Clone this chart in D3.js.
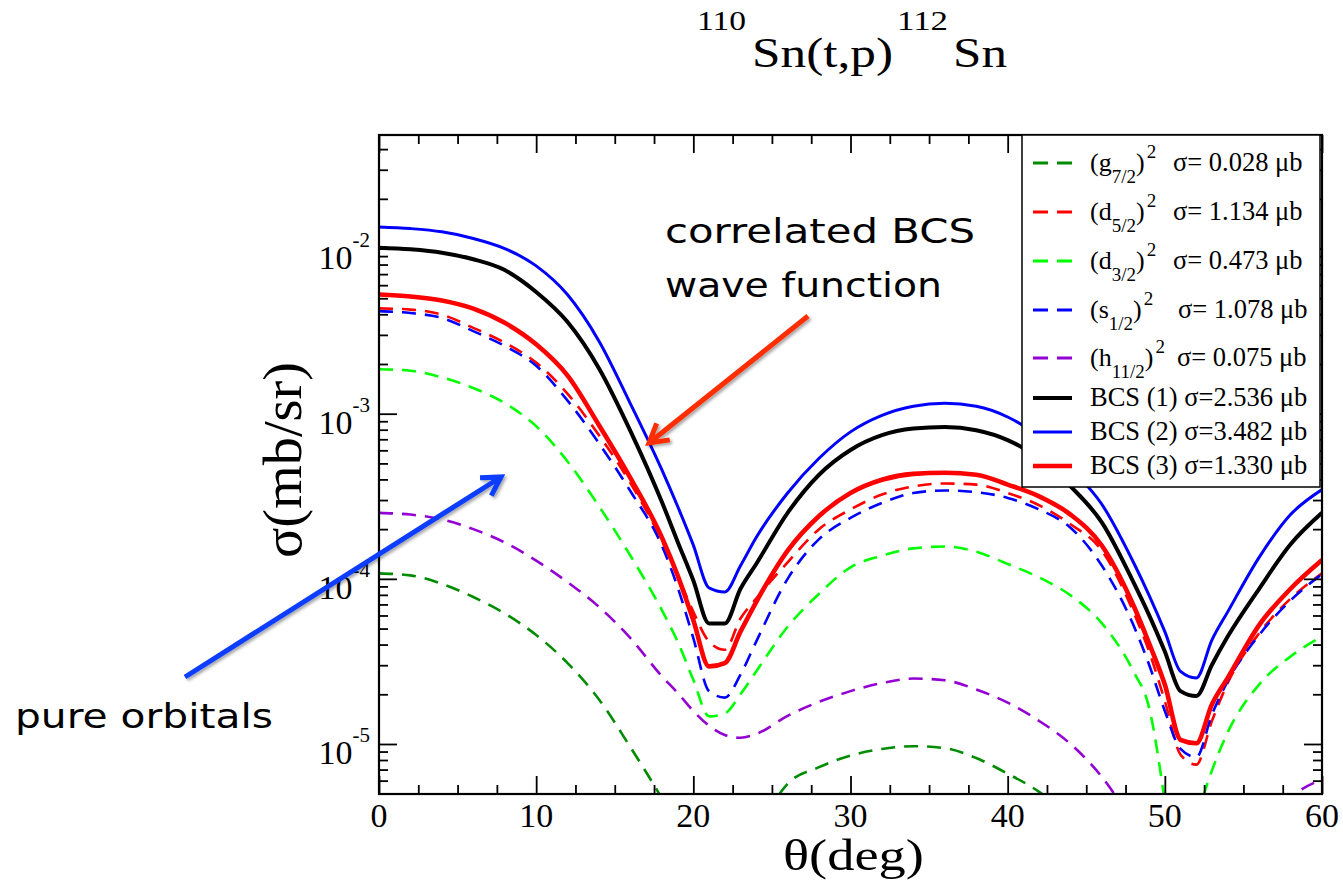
<!DOCTYPE html>
<html>
<head>
<meta charset="utf-8">
<script src="https://cdn.jsdelivr.net/npm/d3@7"></script>
<style>
  body { margin: 0; background: #fff; }
  svg text { font-family: "Liberation Serif", "Times New Roman", serif; fill: #000; }
  .note { font-family: "DejaVu Sans", sans-serif; }
</style>
</head>
<body>
<div id="chart"></div>
<script>
// scattering angle theta (deg)
const angles = [0, 2, 4, 6, 8, 10, 12, 14, 16, 18, 19, 20, 21, 22, 23, 24, 26, 28, 30, 32, 34, 36, 38, 40, 42, 44, 46, 48, 49, 50, 51, 52, 53, 54, 56, 58, 60];

// cross sections (mb/sr); null = below the frame
const g72 = [1.08e-4, 1.05e-4, 9.33e-5, 7.76e-5, 6.17e-5, 4.57e-5, 3.09e-5, 1.86e-5, 9.55e-6, 4.68e-6, 3.16e-6, null, null, null, null, 2.82e-6, 5.75e-6, 7.24e-6, 8.51e-6, 9.33e-6, 9.70e-6, 9.44e-6, 8.22e-6, 6.61e-6, 5.13e-6, 3.55e-6, null, null, null, null, null, null, null, null, null, null, null];
const d52 = [4.34e-3, 4.27e-3, 3.98e-3, 3.31e-3, 2.69e-3, 2.04e-3, 1.32e-3, 7.41e-4, 3.80e-4, 1.70e-4, 1.05e-4, 6.31e-5, 4.17e-5, 3.72e-5, 5.75e-5, 7.59e-5, 1.26e-4, 2.0e-4, 2.63e-4, 3.24e-4, 3.63e-4, 3.78e-4, 3.72e-4, 3.31e-4, 2.79e-4, 2.14e-4, 1.48e-4, 6.31e-5, 3.63e-5, 1.82e-5, 8.61e-6, 7.50e-6, 1.38e-5, 2.34e-5, 4.68e-5, 7.59e-5, 1.08e-4];
const d32 = [1.86e-3, 1.82e-3, 1.66e-3, 1.43e-3, 1.16e-3, 8.41e-4, 5.13e-4, 2.75e-4, 1.38e-4, 6.46e-5, 4.17e-5, 2.45e-5, 1.47e-5, 1.53e-5, 2.0e-5, 2.75e-5, 5.13e-5, 8.13e-5, 1.175e-4, 1.38e-4, 1.53e-4, 1.57e-4, 1.46e-4, 1.23e-4, 1.02e-4, 7.94e-5, 5.37e-5, 2.75e-5, 1.66e-5, 4.47e-6, null, 3.55e-6, 6.92e-6, 1.175e-5, 2.29e-5, 3.39e-5, 4.47e-5];
const s12 = [4.18e-3, 4.07e-3, 3.80e-3, 3.16e-3, 2.57e-3, 1.95e-3, 1.20e-3, 6.61e-4, 3.39e-4, 1.585e-4, 8.91e-5, 4.37e-5, 2.09e-5, 1.91e-5, 2.63e-5, 4.17e-5, 1.0e-4, 1.74e-4, 2.34e-4, 2.88e-4, 3.31e-4, 3.43e-4, 3.35e-4, 3.09e-4, 2.63e-4, 2.04e-4, 1.20e-4, 5.25e-5, 3.02e-5, 1.585e-5, 9.33e-6, 8.32e-6, 1.51e-5, 2.40e-5, 4.57e-5, 7.41e-5, 1.07e-4];
const h112 = [2.51e-4, 2.45e-4, 2.29e-4, 2.0e-4, 1.66e-4, 1.29e-4, 9.55e-5, 6.76e-5, 4.37e-5, 2.57e-5, 2.04e-5, 1.585e-5, 1.29e-5, 1.135e-5, 1.09e-5, 1.15e-5, 1.48e-5, 1.80e-5, 2.09e-5, 2.34e-5, 2.49e-5, 2.43e-5, 2.14e-5, 1.78e-5, 1.38e-5, 1.0e-5, 6.31e-6, 3.31e-6, null, null, null, null, null, null, 2.51e-6, 4.68e-6, 6.08e-6];
const bcs1 = [1.012e-2, 9.89e-3, 9.44e-3, 8.61e-3, 7.41e-3, 5.46e-3, 3.59e-3, 1.88e-3, 7.85e-4, 2.92e-4, 1.68e-4, 9.77e-5, 5.37e-5, 5.37e-5, 8.71e-5, 1.23e-4, 2.51e-4, 4.27e-4, 6.03e-4, 7.41e-4, 8.13e-4, 8.32e-4, 7.94e-4, 6.92e-4, 5.37e-4, 3.63e-4, 2.19e-4, 9.55e-5, 6.03e-5, 3.63e-5, 2.09e-5, 1.95e-5, 3.02e-5, 4.47e-5, 8.71e-5, 1.62e-4, 2.51e-4];
const bcs2 = [1.352e-2, 1.321e-2, 1.262e-2, 1.151e-2, 1.0e-2, 7.85e-3, 5.25e-3, 2.75e-3, 1.148e-3, 4.57e-4, 2.75e-4, 1.60e-4, 8.81e-5, 8.32e-5, 1.20e-4, 1.78e-4, 3.31e-4, 5.37e-4, 7.76e-4, 9.77e-4, 1.11e-3, 1.156e-3, 1.11e-3, 9.55e-4, 7.24e-4, 4.68e-4, 2.82e-4, 1.26e-4, 7.94e-5, 4.79e-5, 2.75e-5, 2.51e-5, 4.27e-5, 6.31e-5, 1.35e-4, 2.45e-4, 3.47e-4];
const bcs3 = [5.27e-3, 5.13e-3, 4.85e-3, 4.33e-3, 3.55e-3, 2.63e-3, 1.70e-3, 8.51e-4, 4.07e-4, 1.78e-4, 1.05e-4, 5.62e-5, 2.95e-5, 3.09e-5, 4.79e-5, 7.24e-5, 1.48e-4, 2.40e-4, 3.31e-4, 3.98e-4, 4.32e-4, 4.39e-4, 4.27e-4, 3.72e-4, 3.16e-4, 2.45e-4, 1.585e-4, 6.92e-5, 4.07e-5, 2.29e-5, 1.06e-5, 1.01e-5, 1.74e-5, 2.51e-5, 5.25e-5, 8.71e-5, 1.30e-4];

// legend texts
const orbitalLetters = ["g", "d", "d", "s", "h"];
const orbitalJ = ["7/2", "5/2", "3/2", "1/2", "11/2"];
const orbitalSigma = ["0.028", "1.134", "0.473", "1.078", "0.075"];
const bcsNames = ["BCS (1)", "BCS (2)", "BCS (3)"];
const bcsSigma = ["2.536", "3.482", "1.330"];

// axis ticks
const xMajor = [0, 10, 20, 30, 40, 50, 60];
const xMinor = [2.5, 5, 7.5, 12.5, 15, 17.5, 22.5, 25, 27.5, 32.5, 35, 37.5, 42.5, 45, 47.5, 52.5, 55, 57.5];
const yExponents = [-5, -4, -3, -2];

const
    width = 1343,
    height = 887,
    plot = { left: 379, right: 1322, top: 135, bottom: 794 },
    svg = d3.select("#chart").append("svg").attr("width", width).attr("height", height);

const xScale = d3.scaleLinear().domain([0, 60]).range([plot.left, plot.right]);
const y = d3.scaleLog().domain([4.98e-6, 4.87e-2]).range([plot.bottom, plot.top]);

const defs = svg.append("defs");
defs.append("clipPath").attr("id", "plot-clip")
    .append("rect")
    .attr("x", plot.left).attr("y", plot.top)
    .attr("width", plot.right - plot.left).attr("height", plot.bottom - plot.top);
defs.append("filter").attr("id", "shadow")
    .attr("x", "-20%").attr("y", "-20%").attr("width", "140%").attr("height", "140%")
    .append("feDropShadow")
    .attr("dx", 2).attr("dy", 2).attr("stdDeviation", 1.5)
    .attr("flood-color", "#000").attr("flood-opacity", 0.35);

const dash = "14 9";
const series = [
    { values: g72, color: "#008c00", dash: dash, w: 2.6 },
    { values: d52, color: "#ff0000", dash: dash, w: 2.6 },
    { values: d32, color: "#00ff00", dash: dash, w: 2.6 },
    { values: s12, color: "#0000ff", dash: dash, w: 2.6 },
    { values: h112, color: "#9400d3", dash: dash, w: 2.6 },
    { values: bcs1, color: "#000000", dash: null, w: 4 },
    { values: bcs2, color: "#0000ff", dash: null, w: 3 },
    { values: bcs3, color: "#ff0000", dash: null, w: 4.6 }
];

var line = d3.line()
    .defined(d => d.v != null)
    .x(d => xScale(d.a))
    .y(d => y(d.v))
    .curve(d3.curveMonotoneX);

const curves = svg.append("g").attr("clip-path", "url(#plot-clip)");
series.forEach(s => {
    curves.append("path")
        .datum(angles.map((a, i) => ({ a: a, v: s.values[i] })))
        .attr("fill", "none")
        .attr("stroke", s.color)
        .attr("stroke-width", s.w)
        .attr("stroke-dasharray", s.dash)
        .attr("stroke-linejoin", "round")
        .attr("d", line);
});

// ticks on all four sides, pointing inward
function tickGroup(axis, transform) {
    svg.append("g")
        .attr("transform", transform)
        .call(axis)
        .call(g => g.select(".domain").remove())
        .call(g => g.selectAll(".tick line").attr("stroke", "#000").attr("stroke-width", 1.8));
}
const yMinor = [];
[-6, -5, -4, -3, -2].forEach(e => {
    for (let k = 2; k <= 9; k++) {
        const v = k * Math.pow(10, e);
        if (v > y.domain()[0] * 1.01 && v < y.domain()[1]) yMinor.push(v);
    }
});
const yMajor = yExponents.map(e => Math.pow(10, e));

tickGroup(d3.axisBottom(xScale).tickValues(xMajor).tickSize(-18).tickFormat(""), `translate(0,${plot.bottom})`);
tickGroup(d3.axisBottom(xScale).tickValues(xMinor).tickSize(-9).tickFormat(""), `translate(0,${plot.bottom})`);
tickGroup(d3.axisTop(xScale).tickValues(xMajor).tickSize(-18).tickFormat(""), `translate(0,${plot.top})`);
tickGroup(d3.axisTop(xScale).tickValues(xMinor).tickSize(-9).tickFormat(""), `translate(0,${plot.top})`);
tickGroup(d3.axisLeft(y).tickValues(yMajor).tickSize(-18).tickFormat(""), `translate(${plot.left},0)`);
tickGroup(d3.axisLeft(y).tickValues(yMinor).tickSize(-9).tickFormat(""), `translate(${plot.left},0)`);
tickGroup(d3.axisRight(y).tickValues(yMajor).tickSize(-18).tickFormat(""), `translate(${plot.right},0)`);
tickGroup(d3.axisRight(y).tickValues(yMinor).tickSize(-9).tickFormat(""), `translate(${plot.right},0)`);

svg.append("rect")
    .attr("x", plot.left).attr("y", plot.top)
    .attr("width", plot.right - plot.left).attr("height", plot.bottom - plot.top)
    .attr("fill", "none").attr("stroke", "#000").attr("stroke-width", 2.2);

// tick labels
svg.selectAll(".xlab")
    .data(xMajor)
    .enter().append("text")
    .attr("class", "xlab")
    .attr("x", d => xScale(d))
    .attr("y", plot.bottom + 33)
    .attr("text-anchor", "middle")
    .style("font-size", "34px")
    .text(d => d);

const ylab = svg.selectAll(".ylab")
    .data(yExponents)
    .enter().append("text")
    .attr("class", "ylab")
    .attr("x", plot.left - 9)
    .attr("y", d => y(Math.pow(10, d)) + 20)
    .attr("text-anchor", "end")
    .style("font-size", "34px");
ylab.append("tspan").text("10");
ylab.append("tspan").attr("dy", -22).style("font-size", "21px").text(d => "-" + Math.abs(d));

// axis titles
svg.append("text")
    .attr("x", (plot.left + plot.right) / 2 + 3)
    .attr("y", 870)
    .attr("text-anchor", "middle")
    .attr("textLength", 141).attr("lengthAdjust", "spacingAndGlyphs")
    .style("font-size", "44px")
    .text("θ(deg)");

svg.append("text")
    .attr("transform", "translate(301,460) rotate(-90)")
    .attr("text-anchor", "middle")
    .attr("textLength", 196).attr("lengthAdjust", "spacingAndGlyphs")
    .style("font-size", "55px")
    .text("σ(mb/sr)");

// title 110Sn(t,p)112Sn
const titleParts = [
    { t: "110", x: 697, len: 49, y: 30, size: 28 },
    { t: "Sn(t,p)", x: 752, len: 141, y: 67, size: 43 },
    { t: "112", x: 897, len: 51, y: 30, size: 28 },
    { t: "Sn", x: 953, len: 54, y: 67, size: 43 }
];
svg.selectAll(".title")
    .data(titleParts)
    .enter().append("text")
    .attr("class", "title")
    .attr("x", d => d.x).attr("y", d => d.y)
    .attr("textLength", d => d.len).attr("lengthAdjust", "spacingAndGlyphs")
    .style("font-size", d => d.size + "px")
    .text(d => d.t);

// legend
const legend = svg.append("g");
legend.append("rect")
    .attr("x", 1022).attr("y", plot.top)
    .attr("width", plot.right - 2 - 1022).attr("height", 487 - plot.top)
    .attr("fill", "#fff").attr("stroke", "#000").attr("stroke-width", 1.5);

const rowY = [163, 212, 261, 310, 358, 398, 432, 466];
const sigmaX = [1173, 1173, 1173, 1178, 1177];
series.forEach((s, i) => {
    const cy = rowY[i];
    legend.append("line")
        .attr("x1", 1033).attr("x2", 1072)
        .attr("y1", cy).attr("y2", cy)
        .attr("stroke", s.color)
        .attr("stroke-width", s.dash ? 3 : s.w)
        .attr("stroke-dasharray", s.dash ? "15 9" : null);
});
orbitalLetters.forEach((o, i) => {
    const cy = rowY[i];
    const t = legend.append("text")
        .attr("x", 1090).attr("y", cy + 8)
        .style("font-size", "26px");
    t.append("tspan").text("(" + o);
    t.append("tspan").attr("dy", 12).style("font-size", "19px").text(orbitalJ[i]);
    t.append("tspan").attr("dy", -12).text(")");
    t.append("tspan").attr("dy", -13).attr("dx", 2).style("font-size", "19px").text("2");
    legend.append("text")
        .attr("x", sigmaX[i]).attr("y", cy + 8)
        .style("font-size", "26.5px")
        .text("σ= " + orbitalSigma[i] + " μb");
});
bcsNames.forEach((b, i) => {
    legend.append("text")
        .attr("x", 1090).attr("y", rowY[5 + i] + 8)
        .style("font-size", "26.5px")
        .text(b + " σ=" + bcsSigma[i] + " μb");
});

// annotations
function arrow(x1, y1, x2, y2, color) {
    const ang = Math.atan2(y2 - y1, x2 - x1), head = 21, spread = Math.PI / 6;
    const g = svg.append("g").attr("filter", "url(#shadow)");
    g.append("path")
        .attr("d", `M${x1},${y1}L${x2},${y2}` +
            `M${x2 - head * Math.cos(ang - spread)},${y2 - head * Math.sin(ang - spread)}L${x2},${y2}` +
            `L${x2 - head * Math.cos(ang + spread)},${y2 - head * Math.sin(ang + spread)}`)
        .attr("fill", "none")
        .attr("stroke", color)
        .attr("stroke-width", 5)
        .attr("stroke-linecap", "butt")
        .attr("stroke-linejoin", "miter");
}
arrow(808, 316, 649, 443, "#ff2d00");
arrow(185, 677, 501, 477, "#0a3cff");

const notes = [
    { t: "correlated BCS", x: 665, y: 243, len: 310 },
    { t: "wave function", x: 665, y: 297, len: 277 },
    { t: "pure orbitals", x: 15, y: 728, len: 258 }
];
svg.selectAll(".note")
    .data(notes)
    .enter().append("text")
    .attr("class", "note")
    .attr("x", d => d.x).attr("y", d => d.y)
    .attr("textLength", d => d.len).attr("lengthAdjust", "spacingAndGlyphs")
    .style("font-size", "34px")
    .text(d => d.t);
</script>
</body>
</html>
